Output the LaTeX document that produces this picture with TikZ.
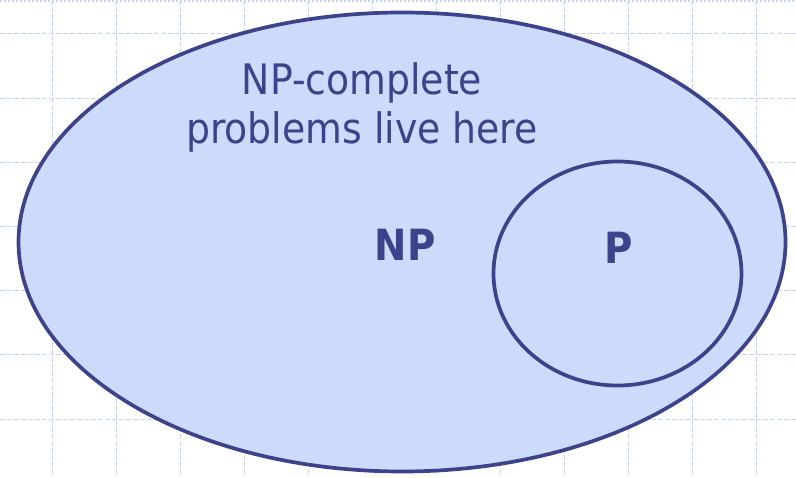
\documentclass[tikz,border=0pt]{standalone}
\usepackage{fontspec}
\setmainfont{DejaVu Sans Condensed}
\usepackage{tikz}
\usetikzlibrary{shapes.geometric}

\definecolor{setline}{HTML}{3D438B}
\definecolor{setfill}{HTML}{CCDBFB}
\definecolor{gridblue}{HTML}{C6D3F7}

\begin{document}
\begin{tikzpicture}[x=1pt, y=-1pt]
  \tikzset{venn/.style={ellipse, draw=setline, fill=setfill, line width=3.7pt, inner sep=0pt},
           setlabel/.style={text=setline, font=\fontsize{42}{49}\selectfont, align=center},
           gridline/.style={draw=gridblue, line width=1pt, dash pattern=on 5pt off 2pt}}
  \useasboundingbox (0,0) rectangle (796,478);
  % background grid
  \draw[gridblue, line width=2pt, dotted] (0,1) -- (796,1);
  \foreach \gx in {52,116,...,756}
    \draw[gridline] (\gx,0) -- (\gx,476);
  \foreach \gy in {34,98.2,...,420}
    \draw[gridline] (0,\gy) -- (796,\gy);
  % the two classes
  \node[venn, minimum width=767, minimum height=459] (np) at (402,242) {};
  \node[venn, minimum width=248, minimum height=224] (p) at (617.5,273.5) {};
  \node[setlabel] (npc) at (362,107) {NP-complete\\problems live here};
  \node[setlabel, font=\fontsize{43}{49}\selectfont\bfseries] (nplab) at (405,245) {NP};
  \node[setlabel, font=\fontsize{43}{49}\selectfont\bfseries] (plab) at (619,248) {P};
\end{tikzpicture}
\end{document}
